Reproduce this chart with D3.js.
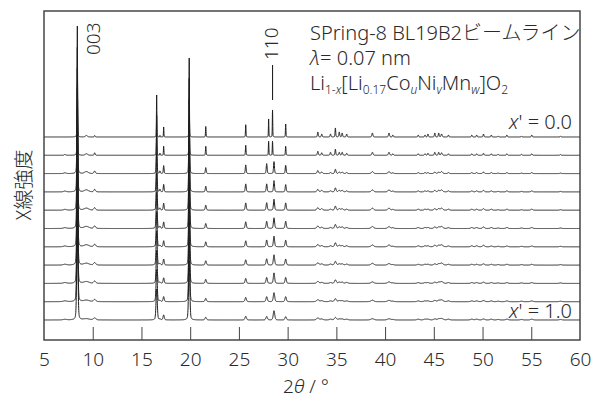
<!DOCTYPE html>
<html>
<head>
<meta charset="utf-8">
<script src="https://cdn.jsdelivr.net/npm/d3@7"></script>
<style>
body { margin: 0; background: #fff; }
text { font-family: "Noto Sans", "Noto Sans CJK JP", sans-serif; font-weight: 300; fill: #2a2a2a; }
.jp { font-family: "Noto Sans CJK JP", "Noto Sans", sans-serif; }
</style>
</head>
<body>
<script>
// data: 11 patterns, x' = 0.0 (top) ... 1.0 (bottom)
var xPrime = [0.0, 0.1, 0.2, 0.3, 0.4, 0.5, 0.6, 0.7, 0.8, 0.9, 1.0];
var xTicks = [5, 10, 15, 20, 25, 30, 35, 40, 45, 50, 55, 60];

// peak positions (2θ, deg)
var peakPos = [7.15, 8.42, 9.35, 10.2,
    16.56, 16.9, 17.28, 19.9, 21.6, 25.7,
    28.05, 27.85, 28.45, 28.6, 29.8,
    33.1, 33.5, 34.4, 34.9, 35.3, 35.6, 36.06,
    38.7, 40.4, 40.8, 43.4, 44.1, 44.4, 45.1, 45.5, 45.8, 46.5,
    48.9, 49.4, 50.1, 50.9, 51.6, 52.5, 54.0, 55.05, 58.0];

// peak heights (arb. units), one value per pattern
var peakHeight = [
    [0, 0.8, 0.8, 0.8, 0.8, 0.8, 0.8, 0.8, 0.8, 0.8, 0.6],
    [111, 108, 106, 104, 102, 100, 98, 96, 94, 92, 90],
    [1.5, 1.5, 2, 2, 2, 2, 2, 1.8, 1.8, 1.5, 1.2],
    [1.5, 2.5, 2.5, 2.5, 2.5, 2.5, 2.5, 2.5, 2.3, 2.2, 2],
    [42, 40, 39, 38, 37, 36, 35, 34, 33, 32, 31],
    [1.5, 2, 2.5, 2.5, 2, 2, 1.5, 1.5, 1.2, 1, 0.8],
    [10, 9, 8, 7.5, 7, 6.5, 6, 6, 5.5, 5, 5],
    [79, 77, 75, 73, 71, 69, 67, 65, 63, 61, 59],
    [10.5, 9, 6, 5.7, 5, 5, 5, 4.3, 4, 3.3, 2.7],
    [12.3, 10, 8.7, 8, 7.3, 6.7, 6, 5.3, 5, 4.3, 3.7],
    [18, 14, 0, 0, 0, 0, 0, 0, 0, 0, 0],
    [0, 0, 10, 8, 7.5, 7.2, 6.8, 6.3, 6, 5, 3.5],
    [27, 14, 0, 0, 0, 0, 0, 0, 0, 0, 0],
    [0, 0, 12, 11.3, 11, 10.7, 10.7, 10.3, 10.5, 9, 9.3],
    [13, 9, 8.3, 7.3, 7.3, 7.3, 6.7, 6, 6, 5, 3.3],
    [5, 4, 3, 2.5, 2.5, 2.5, 2.3, 2.3, 2, 2, 2],
    [3, 2.5, 1.5, 1.5, 1.5, 1.2, 1.2, 1.2, 1, 1, 1],
    [3, 3, 1, 1, 1, 1, 1, 1, 0.8, 0.8, 0.8],
    [9, 6, 4.3, 4, 4, 4, 4, 3.7, 3.5, 3, 2.5],
    [5, 3, 1.5, 1.5, 1.5, 1.5, 1.5, 1.2, 1.2, 1, 1],
    [4, 3, 1.5, 1.5, 1.5, 1.5, 1.2, 1.2, 1.2, 1, 1],
    [3, 2, 1, 1, 1, 1, 1, 1, 1, 0.8, 0.8],
    [4, 3, 2, 2, 2, 2, 1.8, 1.8, 1.5, 1.5, 1.3],
    [4, 3, 2, 2, 2, 1.8, 1.8, 1.5, 1.5, 1.3, 1.2],
    [2, 1.5, 0.8, 0.8, 0.8, 0.8, 0.5, 0.5, 0.5, 0.5, 0.5],
    [2, 1.5, 1, 1, 1, 1, 1, 0.8, 0.8, 0.8, 0.8],
    [2, 1.5, 1, 1, 1, 1, 1, 0.8, 0.8, 0.8, 0.8],
    [3, 2, 1, 1, 1, 1, 1, 0.8, 0.8, 0.8, 0.8],
    [4, 3, 1.5, 1.5, 1.5, 1.5, 1.5, 1.2, 1.2, 1.2, 1],
    [4, 3, 1.5, 1.5, 1.5, 1.5, 1.5, 1.2, 1.2, 1.2, 1],
    [3, 2.5, 2, 2, 2, 2, 2, 2, 1.8, 1.8, 1.5],
    [2, 1.5, 1, 1, 1, 0.8, 0.8, 0.8, 0.8, 0.8, 0.8],
    [2, 1.5, 1, 1, 1, 1, 1, 0.8, 0.8, 0.8, 0.8],
    [2, 1.5, 1, 1, 1, 1, 1, 0.8, 0.8, 0.8, 0.8],
    [3, 2, 1.5, 1.5, 1.5, 1.5, 1.5, 1.2, 1.2, 1.2, 1],
    [2, 1.5, 1, 1, 1, 1, 0.8, 0.8, 0.8, 0.8, 0.8],
    [1, 1, 0.5, 0.5, 0.5, 0.5, 0.5, 0.5, 0.5, 0.5, 0.5],
    [2, 1.5, 1, 1, 1, 1, 0.8, 0.8, 0.8, 0.8, 0.8],
    [1, 1, 0.5, 0.5, 0.5, 0.5, 0.5, 0.5, 0.5, 0.5, 0.5],
    [2, 1.5, 1, 1, 1, 1, 0.8, 0.8, 0.8, 0.8, 0.8],
    [1, 0.8, 0.5, 0.5, 0.5, 0.5, 0.5, 0.5, 0.5, 0.5, 0.5]
];

// peak breadth (FWHM, deg) for each pattern, and extra broadening of a few peaks
var peakWidth = [0.05, 0.06, 0.09, 0.1, 0.11, 0.12, 0.12, 0.13, 0.13, 0.14, 0.15];
var peakBroad = [3, 1, 5, 2, 1, 1, 1, 1, 1.2, 1.2, 1, 1.2, 1, 1.2, 1.2,
    2, 2, 2, 1.6, 2, 2, 2, 2.5, 2.5, 2, 2, 2, 2, 2, 2, 2.5, 2,
    2, 2, 2, 2, 2, 2, 2, 2, 2];

// layout
var W = 592, H = 396;
var mLeft = 44, mRight = 580, mTop = 11, mBottom = 340;
var step = 18.3;   // vertical offset between patterns

var svg = d3.select("body").append("svg").attr("width", W).attr("height", H);

var x = d3.scaleLinear().domain([5, 60]).range([mLeft, mRight]);
var y = d3.scaleLinear().domain([0, mBottom - mTop]).range([mBottom, mTop]);

// build each pattern as sum of pseudo-Voigt peaks
var grid = d3.range(5, 60.0001, 0.01);
function pattern(k) {
    return grid.map(function (t) {
        var s = 0;
        for (var i = 0; i < peakPos.length; i++) {
            var h = peakHeight[i][k];
            if (!h) continue;
            var w = peakWidth[k] * peakBroad[i];
            var d = (t - peakPos[i]) / w;
            var g = Math.exp(-4 * Math.LN2 * d * d);
            var l = 1 / (1 + 4 * d * d);
            s += h * (0.7 * g + 0.3 * l);
        }
        return [t, s];
    });
}

svg.append("clipPath").attr("id", "frame")
    .append("rect").attr("x", mLeft).attr("y", mTop)
    .attr("width", mRight - mLeft).attr("height", mBottom - mTop);

var line = d3.line()
    .x(function (d) { return x(d[0]); })
    .y(function (d) { return y(d[1]); });

var gLines = svg.append("g").attr("clip-path", "url(#frame)");
// draw bottom first so upper patterns sit on top
for (var k = xPrime.length - 1; k >= 0; k--) {
    var base = 20 + (xPrime.length - 1 - k) * step;
    var pts = pattern(k).map(function (p) { return [p[0], base + p[1]]; });
    gLines.append("path")
        .attr("d", line(pts))
        .attr("fill", "none")
        .attr("stroke", "#1e1e1e")
        .attr("stroke-width", 1)
        .attr("stroke-linejoin", "round");
}

// frame
svg.append("rect")
    .attr("x", mLeft).attr("y", mTop)
    .attr("width", mRight - mLeft).attr("height", mBottom - mTop)
    .attr("fill", "none").attr("stroke", "#3a3a3a").attr("stroke-width", 1.4);

// x axis: ticks inside
var xAxis = d3.axisBottom(x).tickValues(xTicks).tickSize(-13).tickPadding(26).tickFormat(d3.format("d"));
var gx = svg.append("g").attr("transform", "translate(0," + mBottom + ")").call(xAxis);
gx.select(".domain").remove();
gx.selectAll(".tick line").attr("stroke", "#444").attr("stroke-width", 1)
    .filter(function (d) { return d === 5 || d === 60; }).remove();
gx.selectAll(".tick text").attr("font-size", 19).attr("font-family", null).attr("fill", "#2a2a2a")
    .attr("y", 25.5).attr("dy", null);

// x title
var xt = svg.append("text").attr("x", 306).attr("y", 393)
    .attr("text-anchor", "middle").attr("font-size", 19);
xt.append("tspan").text("2");
xt.append("tspan").attr("font-style", "italic").text("θ");
xt.append("tspan").text(" / °");

// y title
svg.append("text").attr("class", "jp")
    .attr("transform", "translate(31,185) rotate(-90)")
    .attr("text-anchor", "middle").attr("font-size", 20)
    .text("X線強度");

// peak labels
svg.append("text").attr("transform", "translate(100,55) rotate(-90)")
    .attr("font-size", 19).text("003");
svg.append("text").attr("transform", "translate(278,60) rotate(-90)")
    .attr("font-size", 19).text("110");
svg.append("line").attr("x1", x(28.45)).attr("x2", x(28.45))
    .attr("y1", 65).attr("y2", 100)
    .attr("stroke", "#222").attr("stroke-width", 1.1);

// annotation block
var l1 = svg.append("text").attr("x", 310).attr("y", 40).attr("font-size", 20);
l1.append("tspan").text("SPring-8 BL19B2");
l1.append("tspan").attr("class", "jp").text("ビームライン");

var l2 = svg.append("text").attr("x", 310).attr("y", 65).attr("font-size", 20);
l2.append("tspan").attr("font-style", "italic").text("λ");
l2.append("tspan").text("= 0.07 nm");

// formula: [text, subscript?, italic?]
var formula = [["Li", 0, 0], ["1-", 1, 0], ["x", 1, 1], ["[Li", 0, 0], ["0.17", 1, 0],
    ["Co", 0, 0], ["u", 1, 1], ["Ni", 0, 0], ["v", 1, 1], ["Mn", 0, 0], ["w", 1, 1],
    ["]O", 0, 0], ["2", 1, 0]];
var l3 = svg.append("text").attr("x", 310).attr("y", 90).attr("font-size", 20);
var lowered = 0;
formula.forEach(function (f) {
    var dy = (f[1] ? 4 : 0) - lowered;
    lowered = f[1] ? 4 : 0;
    l3.append("tspan")
        .attr("dy", dy)
        .attr("font-size", f[1] ? 12 : 20)
        .attr("font-style", f[2] ? "italic" : null)
        .text(f[0]);
});

// x' labels
function xLabel(yy, val) {
    var t = svg.append("text").attr("x", 572).attr("y", yy)
        .attr("text-anchor", "end").attr("font-size", 20);
    t.append("tspan").attr("font-style", "italic").text("x");
    t.append("tspan").text("' = " + val.toFixed(1));
}
xLabel(129, xPrime[0]);
xLabel(318, xPrime[xPrime.length - 1]);
</script>
</body>
</html>
